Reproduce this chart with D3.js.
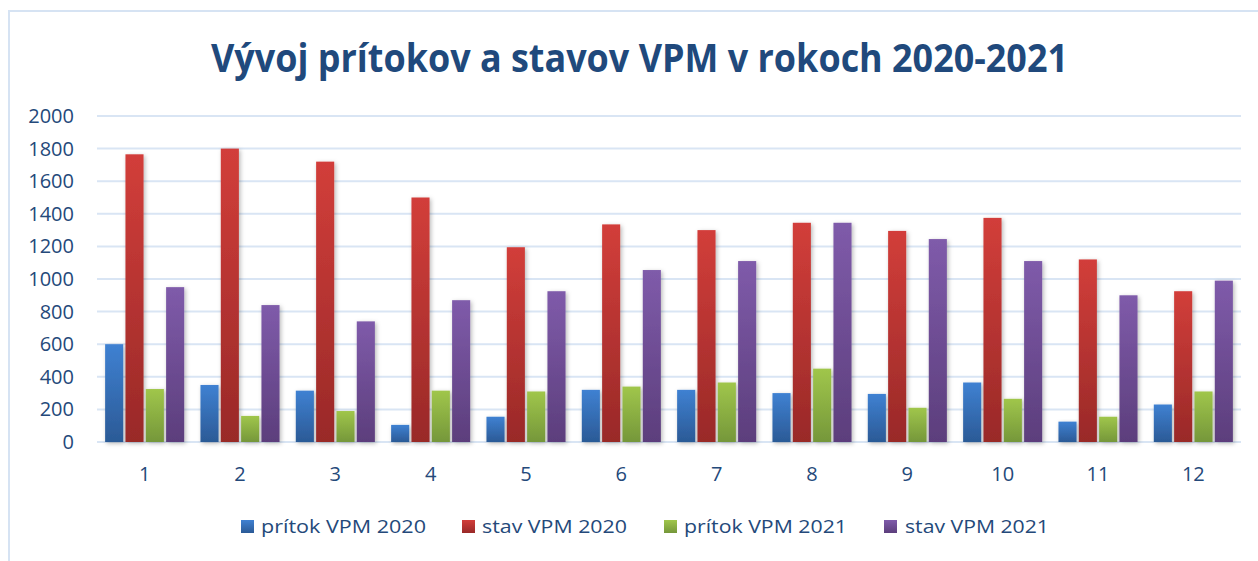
<!DOCTYPE html>
<html>
<head>
<meta charset="utf-8">
<script src="https://cdn.jsdelivr.net/npm/d3@7"></script>
<style>
  html, body { margin: 0; padding: 0; background: #fff; }
  svg { display: block; }
</style>
</head>
<body>
<svg id="chart" width="1258" height="561"></svg>
<script>
// ---- data ----
const months = ["1","2","3","4","5","6","7","8","9","10","11","12"];
const seriesNames = ["prítok VPM 2020", "stav VPM 2020", "prítok VPM 2021", "stav VPM 2021"];
const pritok2020 = [600, 350, 315, 105, 155, 320, 320, 300, 295, 365, 125, 230];
const stav2020   = [1765, 1800, 1720, 1500, 1195, 1335, 1300, 1345, 1295, 1375, 1120, 925];
const pritok2021 = [325, 160, 190, 315, 310, 340, 365, 450, 210, 265, 155, 310];
const stav2021   = [950, 840, 740, 870, 925, 1055, 1110, 1345, 1245, 1110, 900, 990];
const yTicks = [0, 200, 400, 600, 800, 1000, 1200, 1400, 1600, 1800, 2000];
const titleText = "Vývoj prítokov a stavov VPM v rokoch 2020-2021";

const seriesValues = [pritok2020, stav2020, pritok2021, stav2021];
const gradStops = [
  ["#3f81d2", "#2b5a96"],
  ["#d23e3a", "#992928"],
  ["#a0c64b", "#75973a"],
  ["#7f5baa", "#5c3e7c"]
];
const textColor = "#24497a";

const svg = d3.select("#chart");
const defs = svg.append("defs");

gradStops.forEach((s, i) => {
  const g = defs.append("linearGradient").attr("id", "g" + i)
    .attr("x1", 0).attr("y1", 0).attr("x2", 0).attr("y2", 1);
  g.append("stop").attr("offset", "0%").attr("stop-color", s[0]);
  g.append("stop").attr("offset", "100%").attr("stop-color", s[1]);
});
const f = defs.append("filter").attr("id", "shadow")
  .attr("x", "-30%").attr("y", "-10%").attr("width", "170%").attr("height", "130%");
f.append("feDropShadow").attr("dx", 1.5).attr("dy", 1.5).attr("stdDeviation", 2)
  .attr("flood-color", "#000").attr("flood-opacity", 0.28);

// outer border
svg.append("rect").attr("x", 9).attr("y", 11).attr("width", 1300).attr("height", 600)
  .attr("fill", "none").attr("stroke", "#d6e3f3").attr("stroke-width", 2);

const plotLeft = 97, plotRight = 1241, plotTop = 116, plotBottom = 442;
const x0 = d3.scaleBand().domain(months).range([plotLeft, plotRight]).paddingInner(0).paddingOuter(0);
const x1 = d3.scaleBand().domain(d3.range(4)).range([0, x0.bandwidth()])
  .paddingInner(0.11).paddingOuter(0.4);
const y = d3.scaleLinear().domain([0, 2000]).range([plotBottom, plotTop]);

// gridlines
svg.append("g").selectAll("line").data(yTicks).join("line")
  .attr("x1", plotLeft).attr("x2", plotRight)
  .attr("y1", d => y(d)).attr("y2", d => y(d))
  .attr("stroke", "#d9e5f4").attr("stroke-width", 2);

// bars
const groups = svg.append("g").selectAll("g").data(months).join("g")
  .attr("transform", d => `translate(${x0(d)},0)`);
groups.selectAll("rect")
  .data((m, mi) => seriesValues.map((vals, si) => ({ si, v: vals[mi] })))
  .join("rect")
  .attr("x", d => x1(d.si))
  .attr("width", x1.bandwidth())
  .attr("y", d => y(d.v))
  .attr("height", d => y(0) - y(d.v))
  .attr("fill", d => `url(#g${d.si})`)
  .attr("filter", "url(#shadow)");

// axes
const yAxis = d3.axisLeft(y).tickValues(yTicks).tickFormat(d3.format("d"))
  .tickSize(0).tickPadding(23);
const ya = svg.append("g").attr("transform", `translate(${plotLeft},0)`).call(yAxis);
ya.select(".domain").remove();
ya.selectAll("text").attr("fill", textColor)
  .style("font-family", "'Open Sans', sans-serif").style("font-size", "20px");

const xAxis = d3.axisBottom(x0).tickSize(0).tickPadding(25);
const xa = svg.append("g").attr("transform", `translate(0,${plotBottom})`).call(xAxis);
xa.select(".domain").remove();
xa.selectAll("text").attr("fill", textColor)
  .style("font-family", "'Open Sans', sans-serif").style("font-size", "20px");

// title
svg.append("text").attr("x", 639.5).attr("y", 72)
  .attr("text-anchor", "middle")
  .attr("fill", "#20497c")
  .style("font-family", "'Open Sans', sans-serif")
  .style("font-weight", "bold").style("font-size", "39px")
  .attr("textLength", 857).attr("lengthAdjust", "spacingAndGlyphs")
  .text(titleText);

// legend
const legendLayout = [
  { sx: 241, tx: 261, tw: 165 },
  { sx: 462, tx: 482, tw: 145 },
  { sx: 664, tx: 684, tw: 163 },
  { sx: 884, tx: 905, tw: 144 }
];
const lg = svg.append("g");
seriesNames.forEach((name, i) => {
  const L = legendLayout[i];
  lg.append("rect").attr("x", L.sx).attr("y", 520).attr("width", 13).attr("height", 13)
    .attr("fill", `url(#g${i})`);
  lg.append("text").attr("x", L.tx).attr("y", 533)
    .attr("fill", textColor)
    .style("font-family", "'Open Sans', sans-serif").style("font-size", "18px")
    .attr("textLength", L.tw).attr("lengthAdjust", "spacingAndGlyphs")
    .text(name);
});
</script>
</body>
</html>
